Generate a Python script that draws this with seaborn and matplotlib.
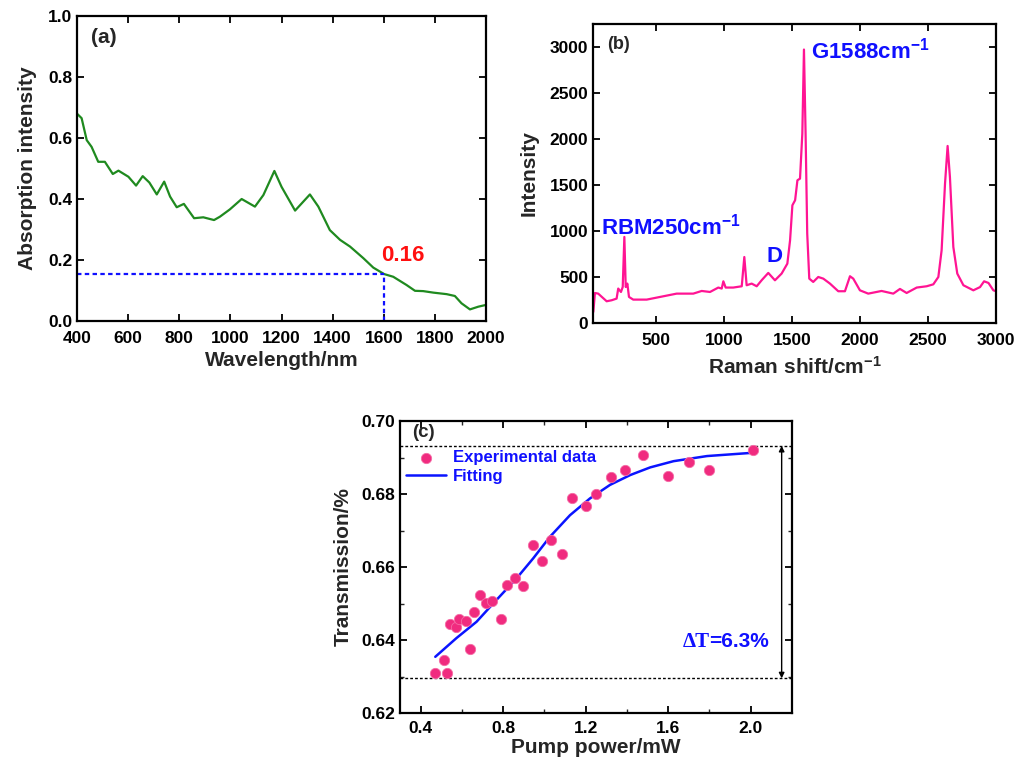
import numpy as np
import pandas as pd
import matplotlib
matplotlib.use("Agg")
import matplotlib.pyplot as plt
import seaborn as sns

# ---------------- data ----------------
# (a) absorption spectrum
wl = [401, 418, 438, 457, 483, 509, 540, 562, 601, 631, 657, 683, 712, 741, 764, 790,
      818, 835, 858, 894, 936, 959, 998, 1044, 1096, 1129, 1172, 1200, 1253, 1311, 1344,
      1389, 1429, 1468, 1520, 1559, 1601, 1637, 1689, 1722, 1754, 1794, 1846, 1878, 1904,
      1937, 1970, 1996]
absorb = [0.679, 0.665, 0.593, 0.571, 0.522, 0.522, 0.482, 0.493, 0.473, 0.444, 0.475,
          0.454, 0.415, 0.457, 0.408, 0.373, 0.384, 0.364, 0.337, 0.340, 0.331, 0.342,
          0.366, 0.400, 0.375, 0.413, 0.492, 0.440, 0.362, 0.415, 0.375, 0.298, 0.266,
          0.244, 0.206, 0.175, 0.154, 0.145, 0.118, 0.099, 0.098, 0.093, 0.088, 0.082,
          0.058, 0.038, 0.047, 0.052]
mark_wl = 1600
mark_abs = 0.155

# (b) Raman spectrum
raman_x = [42, 54, 78, 140, 177, 213, 225, 245, 258, 270, 280, 292, 304, 335, 434, 532,
           654, 776, 838, 899, 960, 985, 997, 1014, 1070, 1132, 1151, 1168, 1205, 1242,
           1278, 1327, 1376, 1425, 1467, 1487, 1504, 1524, 1541, 1560, 1577, 1589, 1601,
           1613, 1628, 1657, 1694, 1731, 1780, 1841, 1890, 1927, 1951, 2000, 2061, 2159,
           2245, 2294, 2343, 2417, 2490, 2539, 2576, 2600, 2625, 2644, 2661, 2686, 2715,
           2760, 2833, 2882, 2912, 2944, 2980, 2994]
raman_y = [120, 326, 319, 236, 247, 265, 374, 337, 391, 935, 391, 428, 283, 254, 254, 283,
           319, 319, 348, 337, 385, 374, 453, 385, 385, 399, 717, 410, 428, 399, 464, 544,
           464, 537, 645, 899, 1279, 1334, 1551, 1569, 2058, 2972, 2058, 972, 482, 446,
           500, 482, 428, 345, 345, 508, 482, 355, 319, 348, 319, 370, 326, 385, 399, 420,
           500, 790, 1515, 1924, 1587, 826, 537, 410, 355, 390, 453, 435, 355, 348]

# (c) saturable absorption
pump = [0.471, 0.512, 0.530, 0.544, 0.570, 0.585, 0.619, 0.638, 0.659, 0.687, 0.717,
        0.747, 0.789, 0.821, 0.858, 0.896, 0.943, 0.988, 1.032, 1.084, 1.132, 1.202,
        1.250, 1.323, 1.391, 1.480, 1.597, 1.699, 1.800, 2.010]
trans = [0.6310, 0.6344, 0.6310, 0.6443, 0.6435, 0.6458, 0.6453, 0.6376, 0.6476, 0.6522,
         0.6501, 0.6508, 0.6457, 0.6550, 0.6571, 0.6549, 0.6660, 0.6616, 0.6673, 0.6636,
         0.6790, 0.6766, 0.6801, 0.6847, 0.6866, 0.6907, 0.6850, 0.6888, 0.6867, 0.6920]
fit_x = [0.471, 0.573, 0.671, 0.768, 0.865, 0.946, 1.027, 1.124, 1.221, 1.318, 1.416,
         1.513, 1.626, 1.788, 2.010]
fit_y = [0.6354, 0.6405, 0.6450, 0.6510, 0.6569, 0.6624, 0.6683, 0.6742, 0.6788, 0.6825,
         0.6852, 0.6873, 0.6890, 0.6904, 0.6913]
t_max = 0.6932
t_min = 0.6295

# ---------------- style ----------------
sns.set_theme(style="ticks")
plt.rcParams["font.family"] = ["Liberation Sans", "DejaVu Sans"]
plt.rcParams["font.weight"] = "bold"
plt.rcParams["axes.labelweight"] = "bold"
plt.rcParams["mathtext.fontset"] = "custom"
plt.rcParams["mathtext.rm"] = "Liberation Sans:bold"
plt.rcParams["mathtext.bf"] = "Liberation Sans:bold"
plt.rcParams["mathtext.default"] = "bf"
plt.rcParams["axes.linewidth"] = 1.6
plt.rcParams["xtick.direction"] = "in"
plt.rcParams["ytick.direction"] = "in"

TICK = 12.5
LAB = 15


def style_ax(ax, xpad=4):
    for s in ax.spines.values():
        s.set_linewidth(1.6)
        s.set_color("black")
    ax.tick_params(which="major", direction="in", length=5, width=1.3,
                   labelsize=TICK, top=True, right=True, colors="black")
    ax.tick_params(which="minor", direction="in", length=3, width=1.0,
                   top=True, right=True)
    ax.tick_params(axis="x", which="major", pad=xpad)
    for lab in ax.get_xticklabels() + ax.get_yticklabels():
        lab.set_fontweight("bold")


fig = plt.figure(figsize=(10.16, 7.63), dpi=100)

# ---------------- (a) ----------------
ax1 = fig.add_axes([0.0758, 0.5793, 0.4026, 0.3997])
dfa = pd.DataFrame({"wl": wl, "a": absorb})
sns.lineplot(data=dfa, x="wl", y="a", ax=ax1, color="#1f8a1f", lw=1.6, sort=False)
ax1.plot([400, mark_wl], [mark_abs, mark_abs], ls=(0, (2, 1.5)), color="#1010ff", lw=1.6)
ax1.plot([mark_wl, mark_wl], [0, mark_abs], ls=(0, (2, 1.5)), color="#1010ff", lw=1.6)
ax1.text(1590, 0.215, "0.16", color="#ff1010", fontsize=16, fontweight="bold",
         ha="left", va="center")
ax1.text(0.035, 0.93, "(a)", transform=ax1.transAxes, fontsize=15, fontweight="bold",
         ha="left", va="center")
ax1.set_xlim(400, 2000)
ax1.set_ylim(0, 1.0)
ax1.set_xticks(np.arange(400, 2001, 200))
ax1.set_yticks(np.arange(0, 1.01, 0.2))
ax1.set_yticklabels([f"{v:.1f}" for v in np.arange(0, 1.01, 0.2)])
ax1.set_xlabel("Wavelength/nm", fontsize=LAB, fontweight="bold", labelpad=4)
ax1.set_ylabel("Absorption intensity", fontsize=LAB, fontweight="bold", labelpad=8)
style_ax(ax1, xpad=7)

# ---------------- (b) ----------------
ax2 = fig.add_axes([0.5837, 0.5767, 0.3967, 0.3919])
dfb = pd.DataFrame({"x": raman_x, "y": raman_y})
sns.lineplot(data=dfb, x="x", y="y", ax=ax2, color="#ff1493", lw=1.6, sort=False)
ax2.text(95, 1050, "RBM250cm$^{-1}$", color="#1010ff", fontsize=16, fontweight="bold",
         ha="left", va="center")
ax2.text(1370, 725, "D", color="#1010ff", fontsize=16, fontweight="bold",
         ha="center", va="center")
ax2.text(1640, 2960, "G1588cm$^{-1}$", color="#1010ff", fontsize=16, fontweight="bold",
         ha="left", va="center")
ax2.text(0.035, 0.93, "(b)", transform=ax2.transAxes, fontsize=13, fontweight="bold",
         ha="left", va="center")
ax2.set_xlim(40, 3000)
ax2.set_ylim(0, 3250)
ax2.set_xticks(np.arange(500, 3001, 500))
ax2.set_yticks(np.arange(0, 3001, 500))
ax2.set_xlabel("Raman shift/cm$^{-1}$", fontsize=LAB, fontweight="bold", labelpad=6)
ax2.set_ylabel("Intensity", fontsize=LAB, fontweight="bold", labelpad=8)
style_ax(ax2, xpad=7)

# ---------------- (c) ----------------
ax3 = fig.add_axes([0.3937, 0.0655, 0.3858, 0.3827])
ax3.axhline(t_max, color="black", ls=(0, (2, 1.5)), lw=1.0)
ax3.axhline(t_min, color="black", ls=(0, (2, 1.5)), lw=1.0)
dfc = pd.DataFrame({"p": pump, "t": trans})
sns.scatterplot(data=dfc, x="p", y="t", ax=ax3, color="#f02b7f", s=55,
                edgecolor="#f56aa5", linewidth=0.6, label="Experimental data", zorder=3)
dff = pd.DataFrame({"p": fit_x, "t": fit_y})
sns.lineplot(data=dff, x="p", y="t", ax=ax3, color="#0a14ff", lw=1.8, label="Fitting",
             sort=False)
ax3.annotate("", xy=(2.15, t_min), xytext=(2.15, t_max),
             arrowprops=dict(arrowstyle="<|-|>", color="black", lw=1.0,
                             mutation_scale=8, shrinkA=0, shrinkB=0))
ax3.text(1.80, 0.6382, "\u0394T", color="#1010ff", fontsize=15, ha="right",
         va="baseline", family=["Liberation Serif", "DejaVu Serif"])
ax3.text(1.80, 0.6382, "=6.3%", color="#1010ff", fontsize=15, fontweight="bold",
         ha="left", va="baseline")
ax3.text(0.03, 0.96, "(c)", transform=ax3.transAxes, fontsize=13.5, fontweight="bold",
         ha="left", va="center")
leg = ax3.legend(loc="upper left", bbox_to_anchor=(-0.01, 0.935), frameon=False,
                 prop={"size": 12, "weight": "bold"}, labelcolor="#1010ff",
                 handlelength=2.4, handletextpad=0.4, borderaxespad=0.2,
                 labelspacing=0.25)
ax3.set_xlim(0.3, 2.2)
ax3.set_ylim(0.62, 0.70)
ax3.set_xticks([0.4, 0.8, 1.2, 1.6, 2.0])
ax3.set_xticks([0.6, 1.0, 1.4, 1.8], minor=True)
ax3.set_yticks(np.arange(0.62, 0.7001, 0.02))
ax3.set_yticks(np.arange(0.63, 0.70, 0.02), minor=True)
ax3.set_yticklabels([f"{v:.2f}" for v in np.arange(0.62, 0.7001, 0.02)])
ax3.set_xlabel("Pump power/mW", fontsize=LAB, fontweight="bold", labelpad=1)
ax3.set_ylabel("Transmission/%", fontsize=LAB, fontweight="bold", labelpad=6)
style_ax(ax3, xpad=6)

fig.savefig("out.png", dpi=100)
